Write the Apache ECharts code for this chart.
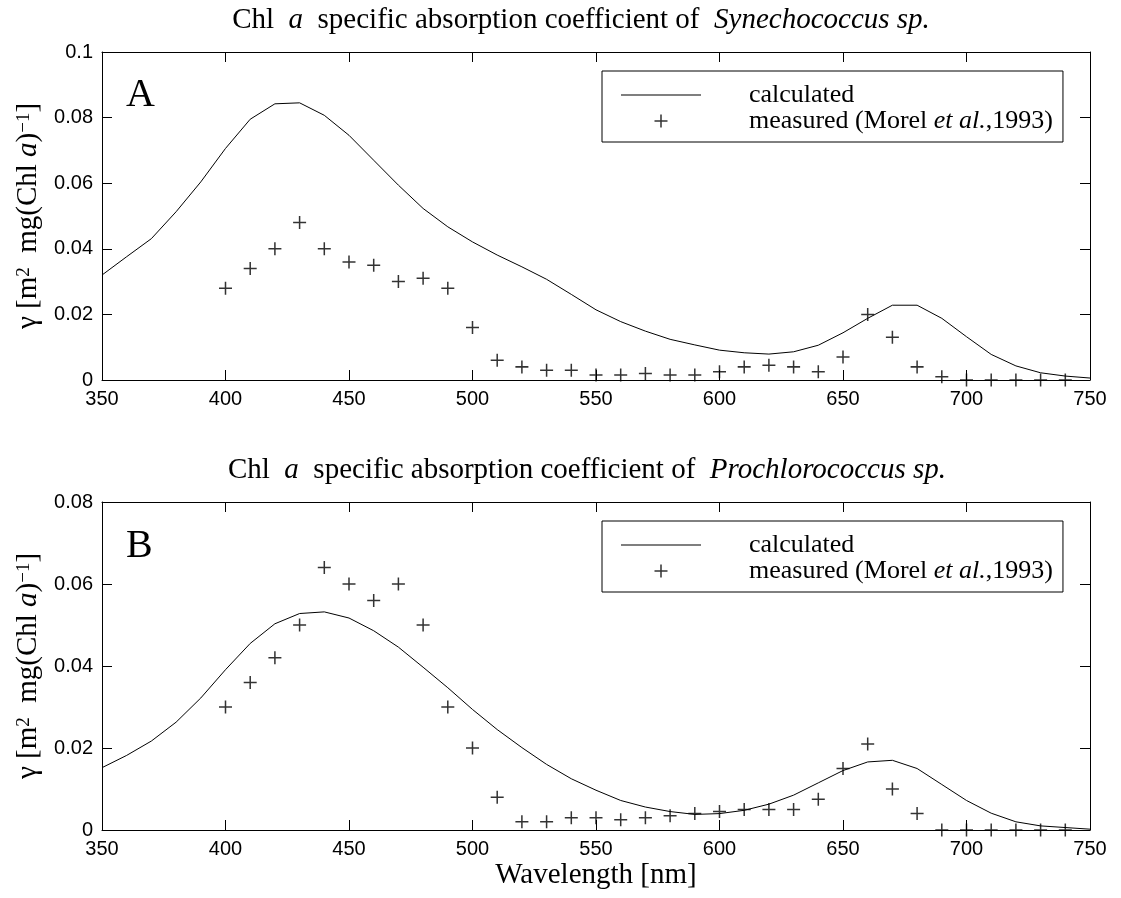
<!DOCTYPE html>
<html>
<head>
<meta charset="utf-8">
<title>Chl a specific absorption coefficient</title>
<script src="https://cdn.jsdelivr.net/npm/echarts@6/dist/echarts.min.js"></script>
<style>
  html, body { margin: 0; padding: 0; background: #fff; }
  #chart { width: 1121px; height: 898px; }
</style>
</head>
<body>
<div id="chart"></div>
<script>
// Wavelength grids [nm]
const calcWavelengths = [350, 360, 370, 380, 390, 400, 410, 420, 430, 440, 450, 460, 470, 480, 490,
  500, 510, 520, 530, 540, 550, 560, 570, 580, 590, 600, 610, 620, 630, 640, 650, 660, 670, 680,
  690, 700, 710, 720, 730, 740, 750];
const measWavelengths = [400, 410, 420, 430, 440, 450, 460, 470, 480, 490, 500, 510, 520, 530,
  540, 550, 560, 570, 580, 590, 600, 610, 620, 630, 640, 650, 660, 670, 680, 690, 700, 710, 720,
  730, 740];

// Synechococcus sp. — calculated and measured (Morel et al., 1993)
const synCalculated = [0.0320, 0.0376, 0.0431, 0.0513, 0.0604, 0.0706, 0.0795, 0.0842, 0.0845,
  0.0807, 0.0746, 0.0670, 0.0594, 0.0523, 0.0467, 0.0421, 0.0381, 0.0345, 0.0307, 0.0261, 0.0214,
  0.0178, 0.0149, 0.0124, 0.0107, 0.0091, 0.0083, 0.0079, 0.0086, 0.0106, 0.0144, 0.0188, 0.0228,
  0.0228, 0.0188, 0.0132, 0.0078, 0.0043, 0.0022, 0.0012, 0.0006];
const synMeasured = [0.028, 0.034, 0.040, 0.048, 0.040, 0.036, 0.035, 0.030, 0.031, 0.028, 0.016,
  0.006, 0.004, 0.003, 0.003, 0.0015, 0.0015, 0.002, 0.0015, 0.0015, 0.0025, 0.004, 0.0045, 0.004,
  0.0025, 0.007, 0.020, 0.013, 0.004, 0.001, 0, 0, 0, 0, 0];

// Prochlorococcus sp. — calculated and measured (Morel et al., 1993)
const proCalculated = [0.0152, 0.0182, 0.0217, 0.0263, 0.0322, 0.0391, 0.0455, 0.0503, 0.0528,
  0.0532, 0.0517, 0.0486, 0.0446, 0.0397, 0.0347, 0.0294, 0.0245, 0.0201, 0.0160, 0.0125, 0.0097,
  0.0072, 0.0056, 0.0045, 0.0038, 0.0040, 0.0048, 0.0063, 0.0085, 0.0115, 0.0145, 0.0166, 0.0170,
  0.0150, 0.0111, 0.0072, 0.0041, 0.0020, 0.0010, 0.0006, 0.0002];
const proMeasured = [0.030, 0.036, 0.042, 0.050, 0.064, 0.060, 0.056, 0.060, 0.050, 0.030, 0.020,
  0.008, 0.002, 0.002, 0.003, 0.003, 0.0025, 0.003, 0.0035, 0.004, 0.0045, 0.005, 0.005, 0.005,
  0.0075, 0.015, 0.021, 0.010, 0.004, 0, 0, 0, 0, 0, 0];

// Axis ranges and ticks
const xMin = 350, xMax = 750, xStep = 50;
const yMaxSyn = 0.1, yMaxPro = 0.08, yStep = 0.02;

const SERIF = '"Liberation Serif", "Times New Roman", serif';
const SANS = '"Liberation Sans", Arial, sans-serif';

const pairs = (xs, ys) => xs.map((x, i) => [x, ys[i]]);

// "+" marker and flat line glyph for the legend
const plusSymbol = 'path://M0,5.3H12V6.7H0Z M5.3,0H6.7V12H5.3Z';
const lineIcon = 'path://M0,0H80V1.2H0Z';

const chart = echarts.init(document.getElementById('chart'), null, { renderer: 'canvas' });

const grids = [
  { left: 102, right: 31, top: 52, height: 328, outerBoundsMode: 'none' },
  { left: 102, right: 31, top: 502, height: 328, outerBoundsMode: 'none' }
];

const tickStyle = { show: true, inside: true, length: 10, lineStyle: { color: '#000', width: 1 } };
const lineStyle = { show: true, onZero: false, lineStyle: { color: '#000', width: 1 } };

function xAxesFor(gridIndex, withName) {
  return [
    {
      type: 'value', gridIndex, position: 'bottom', min: xMin, max: xMax, interval: xStep,
      axisLine: lineStyle, axisTick: tickStyle, splitLine: { show: false },
      axisLabel: { color: '#000', fontFamily: SANS, fontSize: 20, margin: 9 },
      name: withName ? 'Wavelength [nm]' : '', nameLocation: 'middle', nameGap: 31,
      nameTextStyle: { color: '#000', fontFamily: SERIF, fontSize: 29 }
    },
    {
      type: 'value', gridIndex, position: 'top', min: xMin, max: xMax, interval: xStep,
      axisLine: lineStyle, axisTick: tickStyle, splitLine: { show: false },
      axisLabel: { show: false }
    }
  ];
}

function yAxesFor(gridIndex, yMax) {
  return [
    {
      type: 'value', gridIndex, position: 'left', min: 0, max: yMax, interval: yStep,
      axisLine: lineStyle, axisTick: tickStyle, splitLine: { show: false },
      axisLabel: { color: '#000', fontFamily: SANS, fontSize: 20, margin: 9 },
      name: '{n|γ [m}{s|2}{n|  mg(Chl }{i|a}{n|)}{s|−1}{n|]}',
      nameLocation: 'middle', nameRotate: 90, nameGap: 50,
      nameTextStyle: {
        color: '#000', fontFamily: SERIF, fontSize: 29,
        rich: {
          n: { fontFamily: SERIF, fontSize: 29, color: '#000' },
          i: { fontFamily: SERIF, fontSize: 29, fontStyle: 'italic', color: '#000' },
          s: { fontFamily: SERIF, fontSize: 19, color: '#000', verticalAlign: 'top' }
        }
      }
    },
    {
      type: 'value', gridIndex, position: 'right', min: 0, max: yMax, interval: yStep,
      axisLine: lineStyle, axisTick: tickStyle, splitLine: { show: false },
      axisLabel: { show: false }
    }
  ];
}

const titleRich = {
  n: { fontFamily: SERIF, fontSize: 29, fontWeight: 'normal', color: '#000' },
  i: { fontFamily: SERIF, fontSize: 29, fontWeight: 'normal', fontStyle: 'italic', color: '#000' }
};

function legendFor(top) {
  return {
    orient: 'vertical', left: 602, top,
    data: [
      { name: 'calculated', icon: lineIcon },
      { name: 'measured' }
    ],
    borderColor: '#000', borderWidth: 1, borderRadius: 0,
    padding: [11, 10, 8, 19],
    itemWidth: 80, itemHeight: 13, itemGap: 0,
    selectedMode: false,
    textStyle: {
      color: '#000', fontFamily: SERIF, fontSize: 26, lineHeight: 24, padding: [0, 0, 0, 43],
      rich: {
        n: { fontFamily: SERIF, fontSize: 26, color: '#000', lineHeight: 24 },
        i: { fontFamily: SERIF, fontSize: 26, fontStyle: 'italic', color: '#000', lineHeight: 24 }
      }
    },
    formatter: name => name === 'measured'
      ? '{n|measured (Morel }{i|et al.}{n|,1993)}'
      : '{n|calculated}'
  };
}

function calcSeries(xIdx, yIdx, values) {
  return {
    name: 'calculated', type: 'line', xAxisIndex: xIdx, yAxisIndex: yIdx,
    data: pairs(calcWavelengths, values), symbol: 'none', smooth: false,
    lineStyle: { color: '#000', width: 1 }, itemStyle: { color: '#000' },
    animation: false, z: 3
  };
}

function measSeries(xIdx, yIdx, values) {
  return {
    name: 'measured', type: 'scatter', xAxisIndex: xIdx, yAxisIndex: yIdx,
    data: pairs(measWavelengths, values), symbol: plusSymbol, symbolSize: 13,
    itemStyle: { color: '#000' }, animation: false, z: 4
  };
}

chart.setOption({
  backgroundColor: '#fff',
  animation: false,
  title: [
    {
      text: '{n|Chl  }{i|a}{n|  specific absorption coefficient of  }{i|Synechococcus sp.}',
      left: 581, top: 6, textAlign: 'center', padding: 0,
      textStyle: { fontWeight: 'normal', rich: titleRich }
    },
    {
      text: '{n|Chl  }{i|a}{n|  specific absorption coefficient of  }{i|Prochlorococcus sp.}',
      left: 587, top: 456, textAlign: 'center', padding: 0,
      textStyle: { fontWeight: 'normal', rich: titleRich }
    },
    {
      text: 'A', left: 126, top: 75, padding: 0,
      textStyle: { fontFamily: SERIF, fontSize: 40, fontWeight: 'normal', color: '#000' }
    },
    {
      text: 'B', left: 126, top: 526, padding: 0,
      textStyle: { fontFamily: SERIF, fontSize: 40, fontWeight: 'normal', color: '#000' }
    }
  ],
  legend: [legendFor(71), legendFor(521)],
  grid: grids,
  xAxis: [...xAxesFor(0, false), ...xAxesFor(1, true)],
  yAxis: [...yAxesFor(0, yMaxSyn), ...yAxesFor(1, yMaxPro)],
  series: [
    calcSeries(0, 0, synCalculated),
    measSeries(0, 0, synMeasured),
    calcSeries(2, 2, proCalculated),
    measSeries(2, 2, proMeasured)
  ]
});
</script>
</body>
</html>
